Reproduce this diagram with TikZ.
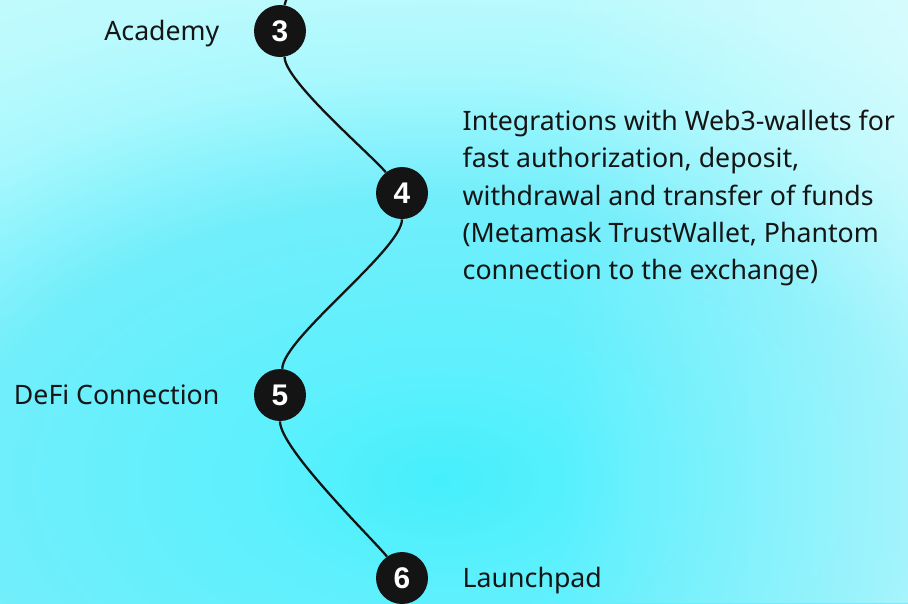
\documentclass[tikz,border=0pt]{standalone}
\usepackage{fontspec}
\setmainfont{Noto Sans}
\newfontfamily\numfont{Liberation Sans}
\usetikzlibrary{positioning, fadings}
\definecolor{glowcore}{HTML}{46EFFC}
\definecolor{glowmid}{HTML}{5EF0FD}
\definecolor{glowlow}{HTML}{72EEFB}
\definecolor{glowhigh}{HTML}{A8F8FD}
\definecolor{glowtop}{HTML}{BCFAFD}
\definecolor{glowrim}{HTML}{CCFBFE}
\definecolor{dotfill}{HTML}{141414}
\definecolor{inktext}{HTML}{151515}
\pgfdeclareradialshading{glow}{\pgfpoint{0bp}{0bp}}{color(0bp)=(glowcore); color(5bp)=(glowmid);
  color(12.5bp)=(glowlow); color(18bp)=(glowhigh); color(22bp)=(glowtop); color(30bp)=(glowrim)}
\tikzfading[name=fade in right, left color=transparent!100, right color=transparent!0]
\tikzset{
  dot/.style={circle, fill=dotfill, minimum size=1.04cm, inner sep=0pt, text=white,
    font=\numfont\bfseries\fontsize{17}{17}\selectfont},
  tag/.style={inner sep=0pt, text=inktext, font=\fontsize{15.2}{21.2}\selectfont},
  oneline/.style={tag, text height=10.9pt, text depth=0pt},
  link/.style={draw=black!92, line width=1.3pt},
}

\begin{document}
\begin{tikzpicture}[x=0.02cm, y=0.02cm, node distance=0.68cm]
  \useasboundingbox (0,0) rectangle (908,-603);
  \clip (0,0) rectangle (908,-603);
  % backdrop
  \shade[shading=glow] (-520,-1046) rectangle (1400,86);
  \fill[white, opacity=0.35, path fading=fade in right] (560,0) rectangle (908,-603);
  % steps
  \node[dot] (n3) at (280,-31) {3};
  \node[dot] (n4) at (402,-193) {4};
  \node[dot] (n5) at (280,-395) {5};
  \node[dot] (n6) at (402,-578) {6};
  \coordinate (prev) at (291,12);
  % labels
  \node[oneline, left=of n3] (academy) {Academy};
  \node[tag, right=of n4, align=left, yshift=-0.1cm] (wallets) {Integrations with Web3-wallets for\\
    fast authorization, deposit,\\
    withdrawal and transfer of funds\\
    (Metamask TrustWallet, Phantom\\
    connection to the exchange)};
  \node[oneline, left=of n5] (defi) {DeFi Connection};
  \node[oneline, right=of n6] (launch) {Launchpad};
  % links
  \draw[link] (n3.80) to[out=80, in=-100] (prev);
  \draw[link] (n3.-80) to[out=-90, in=130, looseness=0.4] (n4.128);
  \draw[link] (n4.south) to[out=-90, in=90, looseness=0.4] (n5.85);
  \draw[link] (n5.south) to[out=-90, in=130, looseness=0.4] (n6.125);
\end{tikzpicture}
\end{document}
